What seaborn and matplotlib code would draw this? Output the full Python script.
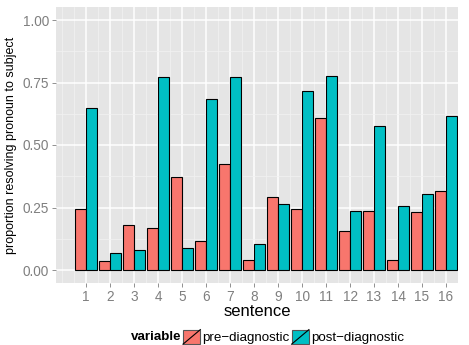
import numpy as np
import pandas as pd
import matplotlib
matplotlib.use("Agg")
import matplotlib.pyplot as plt
import seaborn as sns
from matplotlib.patches import Rectangle
from matplotlib.lines import Line2D
from matplotlib.legend_handler import HandlerPatch

# proportion resolving pronoun to subject, per sentence
sentences = list(range(1, 17))
pre_diag = [0.244, 0.036, 0.179, 0.169, 0.371, 0.115, 0.424, 0.040,
            0.293, 0.245, 0.609, 0.157, 0.237, 0.040, 0.232, 0.316]
post_diag = [0.649, 0.067, 0.079, 0.772, 0.088, 0.684, 0.773, 0.105,
             0.265, 0.716, 0.775, 0.237, 0.576, 0.257, 0.303, 0.617]
variables = ["pre\u2212diagnostic", "post\u2212diagnostic"]
colors = ["#F8766D", "#00BFC4"]

df = pd.DataFrame({
    "sentence": sentences * 2,
    "value": pre_diag + post_diag,
    "variable": [variables[0]] * 16 + [variables[1]] * 16,
})

plt.rcParams["font.family"] = ["Liberation Sans", "DejaVu Sans"]

fig = plt.figure(figsize=(4.69, 3.45), dpi=100)
ax = fig.add_axes([56 / 469, 1 - 283 / 345, (458 - 56) / 469, (283 - 7) / 345])
ax.set_facecolor("#E5E5E5")

sns.barplot(data=df, x="sentence", y="value", hue="variable", hue_order=variables,
            palette=colors, native_scale=True, width=0.9, errorbar=None,
            edgecolor="black", linewidth=0.8, saturation=1, ax=ax, legend=False,
            zorder=3)

ax.set_xlim(-0.25, 16.46)
ax.set_ylim(-0.052, 1.052)
ax.set_xticks(sentences)
ax.set_xticks(np.arange(0, 16.6, 0.5), minor=True)
ax.set_yticks([0, 0.25, 0.5, 0.75, 1.0])
ax.set_yticks([0.125, 0.375, 0.625, 0.875], minor=True)
ax.set_yticklabels(["0.00", "0.25", "0.50", "0.75", "1.00"])

ax.grid(True, which="major", color="white", linewidth=1.1, zorder=1)
ax.grid(True, which="minor", color="#F2F2F2", linewidth=0.5, zorder=1)
ax.set_axisbelow(True)
for s in ax.spines.values():
    s.set_visible(False)
ax.tick_params(which="major", length=3, width=0.6, color="#7F7F7F",
               labelcolor="#7F7F7F", labelsize=9.8, pad=2)
ax.tick_params(which="minor", length=0)

ax.set_xlabel("sentence", fontsize=12, labelpad=0)
ax.set_ylabel("proportion resolving pronoun to subject", fontsize=9, labelpad=4)


class SlashHandler(HandlerPatch):
    def create_artists(self, legend, orig_handle, xdescent, ydescent,
                       width, height, fontsize, trans):
        r = Rectangle((-xdescent, -ydescent), width, height,
                      facecolor=orig_handle.get_facecolor(),
                      edgecolor="#555555", linewidth=0.8, transform=trans)
        l = Line2D([-xdescent, -xdescent + width], [-ydescent, -ydescent + height],
                   color="black", linewidth=0.8, transform=trans)
        return [r, l]


handles = [Rectangle((0, 0), 1, 1, facecolor=c) for c in colors]
fig.text(181 / 469, 1 - 337 / 345, "variable", ha="right", va="center",
         fontsize=9.6, fontweight="bold")
fig.legend(handles, variables, handler_map={Rectangle: SlashHandler()},
           loc="center left", bbox_to_anchor=(183 / 469, 1 - 337 / 345),
           ncol=2, frameon=False, fontsize=9.6, handlelength=1.3,
           handleheight=1.3, handletextpad=0.15, columnspacing=0.15,
           borderpad=0, borderaxespad=0)

fig.savefig("out.png", dpi=100)
